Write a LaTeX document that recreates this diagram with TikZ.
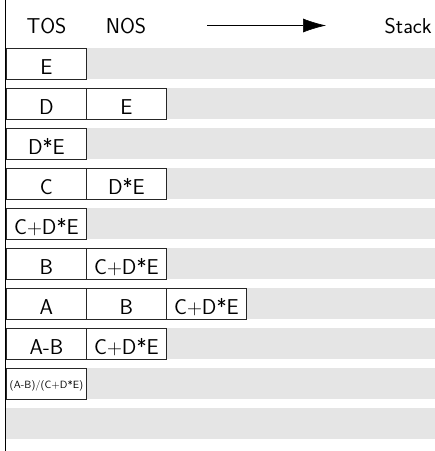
\documentclass[tikz,border=0pt]{standalone}
\usetikzlibrary{arrows.meta}
\begin{document}
\begin{tikzpicture}[x=1pt,y=-1pt,
  font=\sffamily\fontsize{21.5}{25}\selectfont,
  cell/.style={draw=black!85, line width=0.8pt, fill=white,
    minimum width=80pt, minimum height=30.5pt, inner sep=0pt,
    text height=25.8pt, text depth=4.7pt, anchor=north west},
  tinycell/.style={cell, font=\sffamily\fontsize{10.5}{12}\selectfont,
    text height=20pt, text depth=10.5pt},
  head/.style={anchor=base, inner sep=0pt}]
\useasboundingbox (0,0) rectangle (435,451);
% grey stack rows
\foreach \i in {0,...,9}
  \fill[black!10] (6,48+40*\i) rectangle (435,78.5+40*\i);
% left axis
\draw[line width=1.3pt] (5.6,0) -- (5.6,451);
% header
\node[head] (tos) at (46.5,33) {TOS};
\node[head] (nos) at (126,33) {NOS};
\node[head, anchor=base east] (stack) at (432,33) {Stack};
\coordinate (a0) at (207,25.5);
\coordinate (a1) at (326,25.5);
\draw[line width=0.6pt, -{Latex[length=23pt,width=14pt]}] (a0) -- (a1);
% rows
\node[cell] (r1a) at (6,48) {E};
\node[cell] (r2a) at (6,88) {D};
\node[cell] (r2b) at (86,88) {E};
\node[cell] (r3a) at (6,128) {D*E};
\node[cell] (r4a) at (6,168) {C};
\node[cell] (r4b) at (86,168) {D*E};
\node[cell] (r5a) at (6,208) {C$+$D*E};
\node[cell] (r6a) at (6,248) {B};
\node[cell] (r6b) at (86,248) {C$+$D*E};
\node[cell] (r7a) at (6,288) {A};
\node[cell] (r7b) at (86,288) {B};
\node[cell] (r7c) at (166,288) {C$+$D*E};
\node[cell] (r8a) at (6,328) {A-B};
\node[cell] (r8b) at (86,328) {C$+$D*E};
\node[tinycell] (r9a) at (6,368) {(A-B)/(C$+$D*E)};
\end{tikzpicture}
\end{document}
